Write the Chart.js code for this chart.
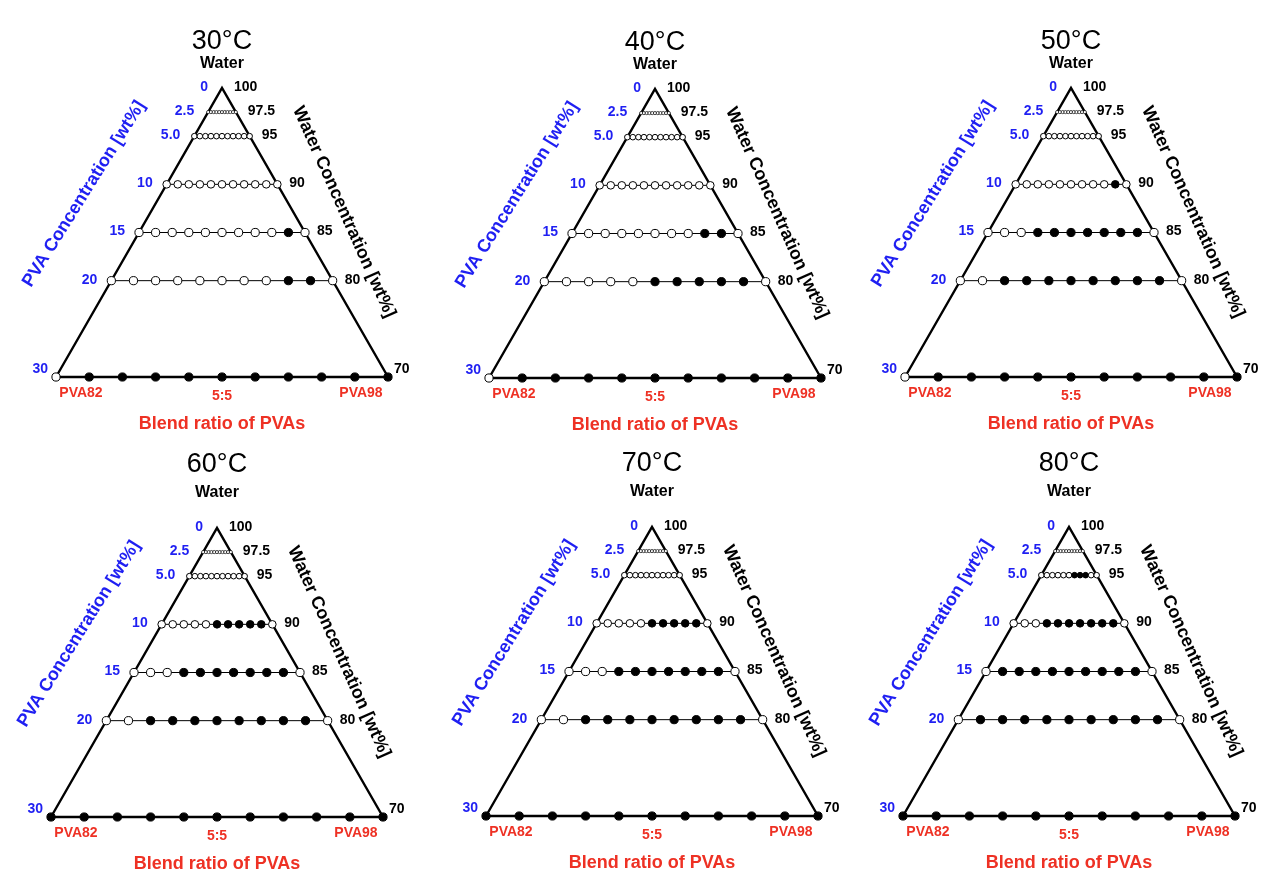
<!DOCTYPE html>
<html>
<head>
<meta charset="utf-8">
<script src="https://cdn.jsdelivr.net/npm/chart.js@4.4.0/dist/chart.umd.min.js"></script>
<style>
  html, body { margin: 0; padding: 0; background: #fff; width: 1280px; height: 872px; overflow: hidden; }
  canvas { position: absolute; }
</style>
</head>
<body>
<script>
// Data
const temperatures = ['30°C', '40°C', '50°C', '60°C', '70°C', '80°C'];
const pvaConc = [2.5, 5, 10, 15, 20, 30];               // PVA concentration of each row [wt%]
const pvaTicks = ['0', '2.5', '5.0', '10', '15', '20', '30'];
const waterTicks = ['100', '97.5', '95', '90', '85', '80', '70'];
const blendSteps = [0, 1, 2, 3, 4, 5, 6, 7, 8, 9, 10];  // PVA98 share in tenths (0 = PVA82, 10 = PVA98)
const blendLabels = ['PVA82', '5:5', 'PVA98'];

// one string per row of pvaConc, 1 = filled marker
const state30 = ['00000000000', '00000000000', '00000000000', '00000000010', '00000000110', '01111111111'];
const state40 = ['00000000000', '00000000000', '00000000000', '00000000110', '00000111110', '01111111111'];
const state50 = ['00000000000', '00000000000', '00000000010', '00011111110', '00111111110', '01111111111'];
const state60 = ['00000000000', '00000000000', '00000111110', '00011111110', '00111111110', '11111111111'];
const state70 = ['00000000000', '00000000000', '00000111110', '00011111110', '00111111110', '11111111111'];
const state80 = ['00000000000', '00000011100', '00011111110', '01111111110', '01111111110', '11111111111'];
const states = [state30, state40, state50, state60, state70, state80];

// Layout
const panelApex = [[222, 88], [655, 89], [1071, 88], [217, 528], [652, 527], [1069, 527]];
const titleGap = [[46, 24], [46, 24], [46, 24], [63, 35], [63, 35], [63, 35]];
const W = 430, H = 440, HALF = 166, TRI_H = 289, APEX_Y = 88;
const BLUE = '#1f1ff2', RED = '#ee3124';
const FONT = '"Liberation Sans", Arial, Helvetica, sans-serif';
const markerSize = { 2.5: 1.6, 5: 2.8, 10: 3.8, 15: 4.1, 20: 4.1, 30: 4.1 };

const labelPlugin = {
  id: 'triLabels',
  afterDraw(chart) {
    const { ctx, scales: { x, y } } = chart;
    const opt = chart.options.plugins.triLabels;
    const ax = x.getPixelForValue(0), ay = y.getPixelForValue(0);
    const by = y.getPixelForValue(30);
    const bl = x.getPixelForValue(-15), br = x.getPixelForValue(15);
    ctx.save();
    ctx.textBaseline = 'middle';
    ctx.textAlign = 'center';
    ctx.fillStyle = '#000';
    ctx.font = '27px ' + FONT;
    ctx.fillText(opt.title, ax, ay - opt.gap[0]);
    ctx.font = 'bold 16px ' + FONT;
    ctx.fillText('Water', ax, ay - opt.gap[1]);

    ctx.font = 'bold 14px ' + FONT;
    [0, ...pvaConc].forEach((c, i) => {
      const py = y.getPixelForValue(c) + (c === 30 ? -8 : -1);
      const pad = c === 30 ? 6 : 12;
      ctx.fillStyle = BLUE;
      ctx.textAlign = 'right';
      ctx.fillText(pvaTicks[i], x.getPixelForValue(-c / 2) - pad - 2, py);
      ctx.fillStyle = '#000';
      ctx.textAlign = 'left';
      ctx.fillText(waterTicks[i], x.getPixelForValue(c / 2) + pad, py);
    });

    ctx.textAlign = 'center';
    ctx.font = 'bold 18px ' + FONT;
    ctx.save();
    ctx.translate(ax - 138, ay + 106);
    ctx.rotate(-58 * Math.PI / 180);
    ctx.fillStyle = BLUE;
    ctx.fillText('PVA Concentration [wt%]', 0, 0);
    ctx.restore();
    ctx.save();
    ctx.translate(ax + 122, ay + 124);
    ctx.rotate(66 * Math.PI / 180);
    ctx.fillStyle = '#000';
    ctx.fillText('Water Concentration [wt%]', 0, 0);
    ctx.restore();

    ctx.fillStyle = RED;
    ctx.font = 'bold 14px ' + FONT;
    ctx.fillText(blendLabels[0], bl + 25, by + 16);
    ctx.fillText(blendLabels[1], ax, by + 19);
    ctx.fillText(blendLabels[2], br - 27, by + 16);
    ctx.font = 'bold 18px ' + FONT;
    ctx.fillText('Blend ratio of PVAs', ax, by + 47);
    ctx.restore();
  }
};

temperatures.forEach((t, k) => {
  const cv = document.createElement('canvas');
  cv.width = W; cv.height = H;
  cv.style.left = (panelApex[k][0] - W / 2) + 'px';
  cv.style.top = (panelApex[k][1] - APEX_Y) + 'px';
  document.body.appendChild(cv);

  const rows = pvaConc.map((c, r) => ({
    data: blendSteps.map(b => ({ x: (b / 10 - 0.5) * c, y: c })),
    showLine: true,
    borderColor: '#000',
    borderWidth: c === 30 ? 0 : 1,
    pointRadius: markerSize[c],
    pointBorderWidth: c === 2.5 ? 0.7 : 1,
    pointBorderColor: '#000',
    pointBackgroundColor: blendSteps.map(b => states[k][r][b] === '1' ? '#000' : '#fff'),
    clip: false,
    order: 0
  }));

  new Chart(cv, {
    type: 'scatter',
    data: {
      datasets: [
        ...rows,
        {
          data: [{ x: -15, y: 30 }, { x: 0, y: 0 }, { x: 15, y: 30 }, { x: -15, y: 30 }],
          showLine: true,
          borderColor: '#000',
          borderWidth: 2.4,
          pointRadius: 0,
          clip: false,
          order: 10
        }
      ]
    },
    options: {
      responsive: false,
      animation: false,
      layout: { padding: { left: W / 2 - HALF, right: W / 2 - HALF, top: APEX_Y, bottom: H - APEX_Y - TRI_H } },
      scales: {
        x: { type: 'linear', min: -15, max: 15, display: false },
        y: { type: 'linear', min: 0, max: 30, reverse: true, display: false }
      },
      plugins: {
        legend: { display: false },
        tooltip: { enabled: false },
        triLabels: { title: t, gap: titleGap[k] }
      }
    },
    plugins: [labelPlugin]
  });
});
</script>
</body>
</html>
